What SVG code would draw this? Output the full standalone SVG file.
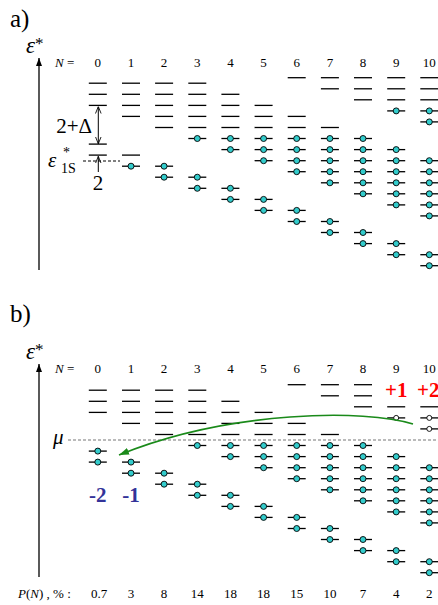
<svg xmlns="http://www.w3.org/2000/svg" width="438" height="605" viewBox="0 0 438 605">
<style>
text{font-family:"Liberation Serif","Times New Roman",serif;fill:#000}
.lv{stroke:#000;stroke-width:1.3;fill:none}
.dc{fill:#33CCCC;stroke:#000;stroke-width:0.9}
.hc{fill:#fff;stroke:#000;stroke-width:0.9}
.it{font-style:italic}
.nl{text-anchor:middle}
.ax{stroke:#000;stroke-width:1.3}
</style>
<defs>
<path id="lv" class="lv" d="M-9,0H9"/>
<g id="dt"><path class="lv" d="M-9,0H9"/><circle class="dc" r="3"/></g>
<g id="ho"><path class="lv" d="M-9,0H9"/><circle class="hc" r="2.5"/></g>
<marker id="ah" viewBox="0 0 8 8" refX="8" refY="4" markerWidth="7" markerHeight="7" markerUnits="userSpaceOnUse" orient="auto-start-reverse"><path d="M0,0.8L8,4L0,7.2" fill="none" stroke="#000" stroke-width="1"/></marker>
<marker id="ax" viewBox="0 0 8 6" refX="8" refY="3" markerWidth="8" markerHeight="6" markerUnits="userSpaceOnUse" orient="auto"><path d="M0,0L8,3L0,6z" fill="#000"/></marker>
<marker id="ga" viewBox="0 0 10 7" refX="10" refY="3.5" markerWidth="10" markerHeight="7" markerUnits="userSpaceOnUse" orient="auto"><path d="M0,0L10,3.5L0,7z" fill="#1a8a1a"/></marker>
</defs>

<!-- panel a -->
<text x="10" y="27" font-size="25">a)</text>
<text x="26" y="53" font-size="23"><tspan class="it">ε</tspan><tspan font-size="17" dy="-4">*</tspan></text>
<line class="ax" x1="39" y1="270" x2="39" y2="58" marker-end="url(#ax)"/>
<text x="55" y="67" font-size="13"><tspan class="it">N</tspan> =</text>
<g class="nl" font-size="13">
<text x="97.8" y="67">0</text><text x="131" y="67">1</text><text x="164.1" y="67">2</text><text x="197.3" y="67">3</text><text x="230.4" y="67">4</text><text x="263.6" y="67">5</text><text x="296.7" y="67">6</text><text x="329.9" y="67">7</text><text x="363" y="67">8</text><text x="396.2" y="67">9</text><text x="429.3" y="67">10</text>
</g>
<text x="92" y="133" font-size="21" text-anchor="end">2+Δ</text>
<text x="98" y="190" font-size="21" text-anchor="middle">2</text>
<text x="48" y="167" font-size="21" class="it">ε</text>
<text x="63" y="157" font-size="14">*</text>
<text x="61" y="173" font-size="14">1S</text>
<line x1="83" y1="161" x2="120" y2="161" stroke="#000" stroke-width="1" stroke-dasharray="3,2"/>

<g id="a-N0" transform="translate(97.8,0)"><use href="#lv" y="83.2"/><use href="#lv" y="94.3"/><use href="#lv" y="105.4"/><use href="#lv" y="144.1"/><use href="#lv" y="155.1"/></g>
<g id="a-N1" transform="translate(131,0)"><use href="#lv" y="83.2"/><use href="#lv" y="94.3"/><use href="#lv" y="105.4"/><use href="#lv" y="116.4"/><use href="#lv" y="155.1"/><use href="#dt" y="166.2"/></g>
<g id="a-N2" transform="translate(164.1,0)"><use href="#lv" y="83.2"/><use href="#lv" y="94.3"/><use href="#lv" y="105.4"/><use href="#lv" y="116.4"/><use href="#lv" y="127.5"/><use href="#dt" y="166.2"/><use href="#dt" y="177.2"/></g>
<g id="a-N3" transform="translate(197.3,0)"><use href="#lv" y="83.2"/><use href="#lv" y="94.3"/><use href="#lv" y="105.4"/><use href="#lv" y="116.4"/><use href="#lv" y="127.5"/><use href="#dt" y="138.5"/><use href="#dt" y="177.2"/><use href="#dt" y="188.3"/></g>
<g id="a-N4" transform="translate(230.4,0)"><use href="#lv" y="94.3"/><use href="#lv" y="105.4"/><use href="#lv" y="116.4"/><use href="#lv" y="127.5"/><use href="#dt" y="138.5"/><use href="#dt" y="149.6"/><use href="#dt" y="188.3"/><use href="#dt" y="199.4"/></g>
<g id="a-N5" transform="translate(263.6,0)"><use href="#lv" y="105.4"/><use href="#lv" y="116.4"/><use href="#lv" y="127.5"/><use href="#dt" y="138.5"/><use href="#dt" y="149.6"/><use href="#dt" y="160.7"/><use href="#dt" y="199.4"/><use href="#dt" y="210.4"/></g>
<g id="a-N6" transform="translate(296.7,0)"><use href="#lv" y="77.7"/><use href="#lv" y="116.4"/><use href="#lv" y="127.5"/><use href="#dt" y="138.5"/><use href="#dt" y="149.6"/><use href="#dt" y="160.7"/><use href="#dt" y="171.7"/><use href="#dt" y="210.4"/><use href="#dt" y="221.5"/></g>
<g id="a-N7" transform="translate(329.9,0)"><use href="#lv" y="77.7"/><use href="#lv" y="88.8"/><use href="#lv" y="127.5"/><use href="#dt" y="138.5"/><use href="#dt" y="149.6"/><use href="#dt" y="160.7"/><use href="#dt" y="171.7"/><use href="#dt" y="182.8"/><use href="#dt" y="221.5"/><use href="#dt" y="232.5"/></g>
<g id="a-N8" transform="translate(363,0)"><use href="#lv" y="77.7"/><use href="#lv" y="88.8"/><use href="#lv" y="99.8"/><use href="#dt" y="138.5"/><use href="#dt" y="149.6"/><use href="#dt" y="160.7"/><use href="#dt" y="171.7"/><use href="#dt" y="182.8"/><use href="#dt" y="193.8"/><use href="#dt" y="232.5"/><use href="#dt" y="243.6"/></g>
<g id="a-N9" transform="translate(396.2,0)"><use href="#lv" y="77.7"/><use href="#lv" y="88.8"/><use href="#lv" y="99.8"/><use href="#dt" y="110.9"/><use href="#dt" y="149.6"/><use href="#dt" y="160.7"/><use href="#dt" y="171.7"/><use href="#dt" y="182.8"/><use href="#dt" y="193.8"/><use href="#dt" y="204.9"/><use href="#dt" y="243.6"/><use href="#dt" y="254.7"/></g>
<g id="a-N10" transform="translate(429.3,0)"><use href="#lv" y="77.7"/><use href="#lv" y="88.8"/><use href="#lv" y="99.8"/><use href="#dt" y="110.9"/><use href="#dt" y="121.9"/><use href="#dt" y="160.7"/><use href="#dt" y="171.7"/><use href="#dt" y="182.8"/><use href="#dt" y="193.8"/><use href="#dt" y="204.9"/><use href="#dt" y="215.9"/><use href="#dt" y="254.7"/><use href="#dt" y="265.7"/></g>

<!-- panel b -->
<text x="10" y="322" font-size="25">b)</text>
<text x="26" y="359" font-size="23"><tspan class="it">ε</tspan><tspan font-size="17" dy="-4">*</tspan></text>
<line class="ax" x1="39" y1="577" x2="39" y2="364" marker-end="url(#ax)"/>
<text x="55" y="373" font-size="13"><tspan class="it">N</tspan> =</text>
<g class="nl" font-size="13">
<text x="97.8" y="373">0</text><text x="131" y="373">1</text><text x="164.1" y="373">2</text><text x="197.3" y="373">3</text><text x="230.4" y="373">4</text><text x="263.6" y="373">5</text><text x="296.7" y="373">6</text><text x="329.9" y="373">7</text><text x="363" y="373">8</text><text x="396.2" y="373">9</text><text x="429.3" y="373">10</text>
</g>
<text x="53" y="444" font-size="21" class="it">μ</text>
<line x1="68" y1="440" x2="438" y2="440" stroke="#777" stroke-width="1.2" stroke-dasharray="3,2"/>

<g id="b-N0" transform="translate(97.8,0)"><use href="#lv" y="390.2"/><use href="#lv" y="401.3"/><use href="#lv" y="412.4"/><use href="#dt" y="451.1"/><use href="#dt" y="462.1"/></g>
<g id="b-N1" transform="translate(131,0)"><use href="#lv" y="390.2"/><use href="#lv" y="401.3"/><use href="#lv" y="412.4"/><use href="#lv" y="423.4"/><use href="#dt" y="462.1"/><use href="#dt" y="473.2"/></g>
<g id="b-N2" transform="translate(164.1,0)"><use href="#lv" y="390.2"/><use href="#lv" y="401.3"/><use href="#lv" y="412.4"/><use href="#lv" y="423.4"/><use href="#lv" y="434.5"/><use href="#dt" y="473.2"/><use href="#dt" y="484.2"/></g>
<g id="b-N3" transform="translate(197.3,0)"><use href="#lv" y="390.2"/><use href="#lv" y="401.3"/><use href="#lv" y="412.4"/><use href="#lv" y="423.4"/><use href="#lv" y="434.5"/><use href="#dt" y="445.5"/><use href="#dt" y="484.2"/><use href="#dt" y="495.3"/></g>
<g id="b-N4" transform="translate(230.4,0)"><use href="#lv" y="401.3"/><use href="#lv" y="412.4"/><use href="#lv" y="423.4"/><use href="#lv" y="434.5"/><use href="#dt" y="445.5"/><use href="#dt" y="456.6"/><use href="#dt" y="495.3"/><use href="#dt" y="506.4"/></g>
<g id="b-N5" transform="translate(263.6,0)"><use href="#lv" y="412.4"/><use href="#lv" y="423.4"/><use href="#lv" y="434.5"/><use href="#dt" y="445.5"/><use href="#dt" y="456.6"/><use href="#dt" y="467.7"/><use href="#dt" y="506.4"/><use href="#dt" y="517.4"/></g>
<g id="b-N6" transform="translate(296.7,0)"><use href="#lv" y="384.7"/><use href="#lv" y="423.4"/><use href="#lv" y="434.5"/><use href="#dt" y="445.5"/><use href="#dt" y="456.6"/><use href="#dt" y="467.7"/><use href="#dt" y="478.7"/><use href="#dt" y="517.4"/><use href="#dt" y="528.5"/></g>
<g id="b-N7" transform="translate(329.9,0)"><use href="#lv" y="384.7"/><use href="#lv" y="395.8"/><use href="#lv" y="434.5"/><use href="#dt" y="445.5"/><use href="#dt" y="456.6"/><use href="#dt" y="467.7"/><use href="#dt" y="478.7"/><use href="#dt" y="489.8"/><use href="#dt" y="528.5"/><use href="#dt" y="539.5"/></g>
<g id="b-N8" transform="translate(363,0)"><use href="#lv" y="384.7"/><use href="#lv" y="395.8"/><use href="#lv" y="406.8"/><use href="#dt" y="445.5"/><use href="#dt" y="456.6"/><use href="#dt" y="467.7"/><use href="#dt" y="478.7"/><use href="#dt" y="489.8"/><use href="#dt" y="500.8"/><use href="#dt" y="539.5"/><use href="#dt" y="550.6"/></g>
<g id="b-N9" transform="translate(396.2,0)"><use href="#lv" y="406.8"/><use href="#ho" y="417.9"/><use href="#dt" y="456.6"/><use href="#dt" y="467.7"/><use href="#dt" y="478.7"/><use href="#dt" y="489.8"/><use href="#dt" y="500.8"/><use href="#dt" y="511.9"/><use href="#dt" y="550.6"/><use href="#dt" y="561.7"/></g>
<g id="b-N10" transform="translate(429.3,0)"><use href="#lv" y="406.8"/><use href="#ho" y="417.9"/><use href="#ho" y="428.9"/><use href="#dt" y="467.7"/><use href="#dt" y="478.7"/><use href="#dt" y="489.8"/><use href="#dt" y="500.8"/><use href="#dt" y="511.9"/><use href="#dt" y="522.9"/><use href="#dt" y="561.7"/><use href="#dt" y="572.7"/></g>

<g font-size="21" font-weight="bold" text-anchor="middle">
<text x="97.8" y="501.5" style="fill:#333399">-2</text>
<text x="131" y="501.5" style="fill:#333399">-1</text>
<text x="396.2" y="396.5" style="fill:#ff0000">+1</text>
<text x="417" y="396.5" text-anchor="start" style="fill:#ff0000">+2</text>
</g>

<text x="18" y="598" font-size="13"><tspan class="it">P</tspan>(<tspan class="it">N</tspan>) , % :</text>
<g class="nl" font-size="13">
<text x="99" y="598">0.7</text><text x="131" y="598">3</text><text x="164.1" y="598">8</text><text x="197.3" y="598">14</text><text x="230.4" y="598">18</text><text x="263.6" y="598">18</text><text x="296.7" y="598">15</text><text x="329.9" y="598">10</text><text x="363" y="598">7</text><text x="396.2" y="598">4</text><text x="429.3" y="598">2</text>
</g>

<g id="connectors">
<line x1="98.3" y1="106.5" x2="98.3" y2="143.8" stroke="#000" stroke-width="1" marker-start="url(#ah)" marker-end="url(#ah)"/>
<line x1="98.3" y1="172" x2="98.3" y2="156.3" stroke="#000" stroke-width="1" marker-end="url(#ah)"/>
<path d="M413,424C366,409 230,410 119,455" fill="none" stroke="#1a8a1a" stroke-width="1.6" marker-end="url(#ga)"/>
</g>
</svg>
